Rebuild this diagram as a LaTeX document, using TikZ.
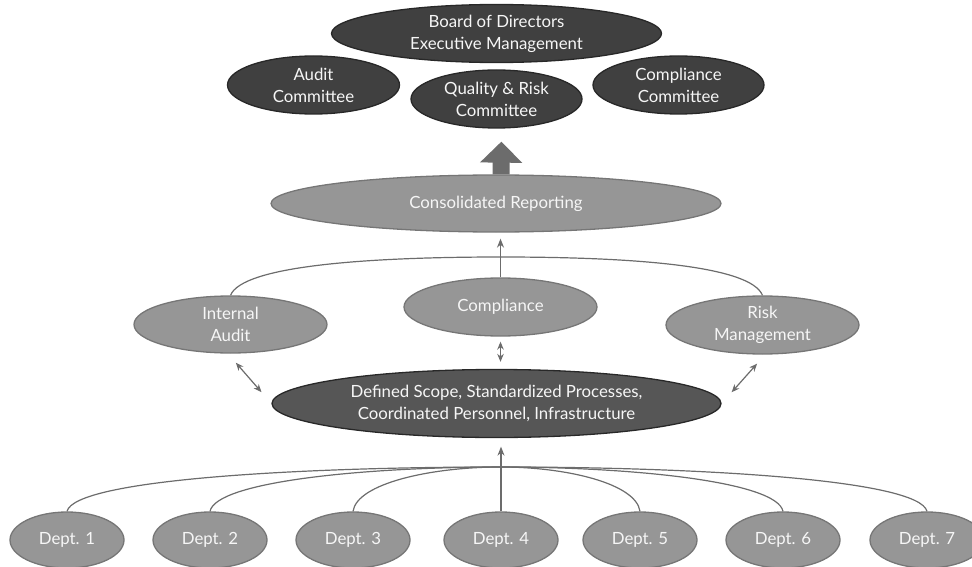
\documentclass[tikz,border=0pt]{standalone}
\usepackage{fontspec}
\setmainfont{Lato}
\usetikzlibrary{shapes.geometric, arrows.meta}

\definecolor{darkfill}{RGB}{64,64,64}
\definecolor{darkline}{RGB}{40,40,40}
\definecolor{basefill}{RGB}{86,86,86}
\definecolor{midfill}{RGB}{150,150,150}
\definecolor{midline}{RGB}{118,118,118}
\definecolor{linkgray}{RGB}{108,108,108}
\definecolor{labelwhite}{RGB}{246,246,246}

\begin{document}
\begin{tikzpicture}[x=1pt, y=-1pt,
    oval/.style={ellipse, inner sep=0pt, line width=1.3pt, align=center,
        text=labelwhite, font=\fontsize{16.8}{22}\selectfont},
    darkoval/.style={oval, draw=darkline, fill=darkfill},
    baseoval/.style={oval, draw=darkline, fill=basefill},
    midoval/.style={oval, draw=midline, fill=midfill},
    dept/.style={midoval, minimum width=114pt, minimum height=56pt},
    link/.style={draw=linkgray, line width=1.2pt},
    uparrow/.style={link, -{Stealth[length=9pt, width=7pt]}},
    twoway/.style={link, {Stealth[length=8pt, width=6.5pt]}-{Stealth[length=8pt, width=6.5pt]}},
    bigarrow/.style={draw=linkgray, line width=17pt, -{Triangle[length=21pt, width=41pt]}}]

    \useasboundingbox (0,0) rectangle (972,567);

    % Board and committees
    \node[darkoval, minimum width=330pt, minimum height=58pt] (board) at (496.5,33.5) {Board of Directors\\Executive Management};
    \node[darkoval, minimum width=172pt, minimum height=58pt] (acom) at (313.5,85) {Audit\\Committee};
    \node[darkoval, minimum width=171pt, minimum height=58pt] (qrc) at (496.5,99) {Quality \& Risk\\Committee};
    \node[darkoval, minimum width=171pt, minimum height=58pt] (ccom) at (678.5,85) {Compliance\\Committee};

    % Reporting
    \node[midoval, minimum width=450pt, minimum height=57pt] (cons) at (496,203.5) {Consolidated Reporting};
    \draw[bigarrow, shorten >=13pt] ([xshift=5pt]cons.north) -- ([xshift=5pt]qrc.south);

    % Oversight functions
    \node[midoval, minimum width=193pt, minimum height=57pt] (ia) at (230.5,324.5) {Internal\\Audit};
    \node[midoval, minimum width=193pt, minimum height=58pt] (comp) at (500.5,307) {Compliance};
    \node[midoval, minimum width=193pt, minimum height=58pt] (rm) at (762.5,325) {Risk\\Management};
    \coordinate (midhub) at (501,257);
    \draw[link] (ia.north) .. controls +(12,-30) and +(-130,0) .. (midhub);
    \draw[link] (rm.north) .. controls +(-12,-30) and +(130,0) .. (midhub);
    \draw[uparrow, shorten >=6pt] (comp.north) -- (comp.north |- cons.south);

    % Common base
    \node[baseoval, minimum width=449pt, minimum height=68pt] (def) at (496.5,403.5) {Defined Scope, Standardized Processes,\\Coordinated Personnel, Infrastructure};
    \draw[twoway, shorten <=5pt, shorten >=7pt] (comp.south) -- (comp.south |- def.north);
    \draw[twoway, shorten <=12pt, shorten >=15pt] (ia.-95) -- (def.west);
    \draw[twoway, shorten <=12pt, shorten >=15pt] (rm.-85) -- (def.east);

    % Departments
    \node[dept] (d1) at (67,540) {Dept. 1};
    \node[dept] (d2) at (210,540) {Dept. 2};
    \node[dept] (d3) at (353,540) {Dept. 3};
    \node[dept] (d4) at (501,540) {Dept. 4};
    \node[dept] (d5) at (640,540) {Dept. 5};
    \node[dept] (d6) at (783,540) {Dept. 6};
    \node[dept] (d7) at (927,540) {Dept. 7};
    \coordinate (depthub) at (501,467);
    \draw[link] (d1.north) .. controls +(8,-32) and +(-200,0) .. (depthub);
    \draw[link] (d2.north) .. controls +(6,-30) and +(-135,0) .. (depthub);
    \draw[link] (d3.north) .. controls +(4,-28) and +(-70,0) .. (depthub);
    \draw[link] (d5.north) .. controls +(-4,-28) and +(65,0) .. (depthub);
    \draw[link] (d6.north) .. controls +(-6,-30) and +(130,0) .. (depthub);
    \draw[link] (d7.north) .. controls +(-8,-32) and +(195,0) .. (depthub);
    \draw[uparrow, shorten >=8.5pt] (d4.north) -- (d4.north |- def.south);
\end{tikzpicture}
\end{document}
